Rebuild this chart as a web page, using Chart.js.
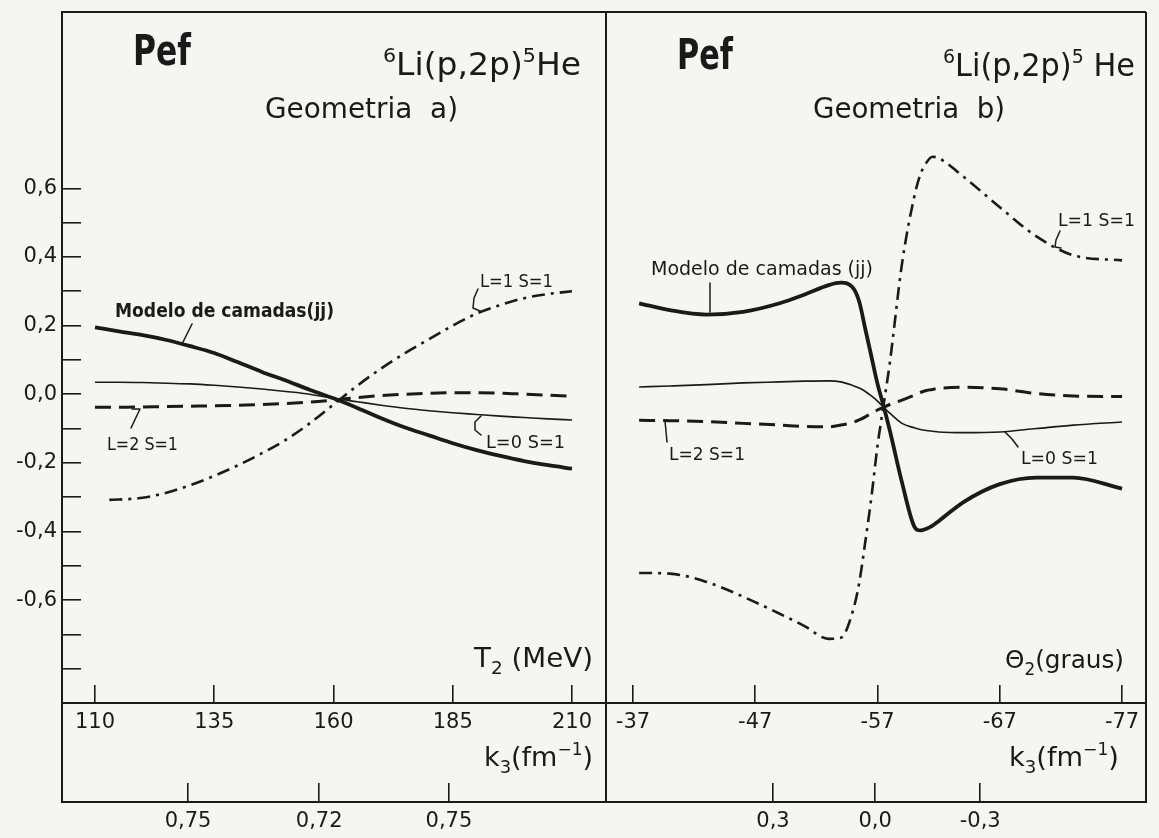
<!DOCTYPE html>
<html lang="pt">
<head>
<meta charset="utf-8">
<title>Pef 6Li(p,2p)5He</title>
<script src="https://cdn.jsdelivr.net/npm/chart.js@4.4.1/dist/chart.umd.min.js"></script>
<style>
  html, body { margin: 0; background: #f5f6f1; }
  #lamina { position: relative; width: 1159px; height: 838px; overflow: hidden; }
  canvas { position: absolute; top: 0; }
  #cA { left: 0; }
  #cB { left: 606px; }
</style>
</head>
<body>
<div id="lamina">
  <canvas id="cA" width="608" height="838"></canvas>
  <canvas id="cB" width="553" height="838"></canvas>
</div>
<script>
/* Pef - 6Li(p,2p)5He, geometrias a) e b) */

// ---------- dados: geometria a), abcissa T2 (MeV) ----------
const t2 = [110, 115, 120, 125, 130, 135, 140, 145, 150, 155, 160,
            165, 170, 175, 180, 185, 190, 195, 200, 205, 210];
const t2L1 = [113, 115, 120, 125, 130, 135, 140, 145, 150, 155, 160,
              165, 170, 175, 180, 185, 190, 195, 200, 205, 210];

const aJJ = [0.195, 0.183, 0.172, 0.158, 0.14, 0.12, 0.093, 0.065, 0.04, 0.013, -0.012,
             -0.04, -0.07, -0.097, -0.12, -0.143, -0.163, -0.18, -0.195, -0.207, -0.217];
const aL0 = [0.035, 0.035, 0.034, 0.032, 0.03, 0.026, 0.021, 0.015, 0.008, 0.0, -0.012,
             -0.022, -0.032, -0.041, -0.048, -0.054, -0.059, -0.064, -0.068, -0.072, -0.075];
const aL2 = [-0.038, -0.038, -0.037, -0.036, -0.035, -0.034, -0.032, -0.03, -0.027, -0.023, -0.017,
             -0.01, -0.004, 0.0, 0.003, 0.004, 0.004, 0.003, 0.0, -0.003, -0.006];
const aL1 = [-0.308, -0.307, -0.302, -0.287, -0.265, -0.238, -0.207, -0.172, -0.133, -0.085, -0.03,
             0.025, 0.075, 0.12, 0.16, 0.2, 0.235, 0.26, 0.28, 0.292, 0.3];

// ---------- dados: geometria b), abcissa theta2 (graus) ----------
const th = [-37.5, -40, -43, -46, -49, -51, -53, -54, -55, -55.5, -56, -56.5, -57,
            -57.5, -58, -59, -60, -60.5, -61, -61.5, -62, -64, -67, -70, -73, -77];

const bJJ = [0.265, 0.245, 0.232, 0.24, 0.265, 0.29, 0.318, 0.325, 0.31, 0.27, 0.19, 0.11, 0.03,
             -0.035, -0.105, -0.257, -0.385, -0.397, -0.392, -0.383, -0.37, -0.315, -0.262, -0.243, -0.243, -0.275];
const bL0 = [0.021, 0.024, 0.028, 0.033, 0.036, 0.038, 0.039, 0.036, 0.025, 0.018, 0.008, -0.005, -0.02,
             -0.038, -0.055, -0.085, -0.098, -0.103, -0.106, -0.108, -0.11, -0.112, -0.11, -0.1, -0.09, -0.081];
const bL2 = [-0.076, -0.077, -0.08, -0.085, -0.09, -0.094, -0.095, -0.09, -0.082, -0.075, -0.066, -0.055, -0.046,
             -0.038, -0.03, -0.017, -0.003, 0.005, 0.011, 0.014, 0.017, 0.02, 0.016, 0.002, -0.005, -0.007];
const bL1 = [-0.521, -0.523, -0.547, -0.59, -0.64, -0.675, -0.713, -0.71, -0.63, -0.55, -0.43, -0.3, -0.15,
             -0.03, 0.09, 0.38, 0.575, 0.64, 0.675, 0.692, 0.688, 0.635, 0.545, 0.46, 0.405, 0.39];

// ---------- eixos ----------
const yTicks = [-0.8, -0.7, -0.6, -0.5, -0.4, -0.3, -0.2, -0.1, 0, 0.1, 0.2, 0.3, 0.4, 0.5, 0.6];
const yLabels = ["", "", "-0,6", "", "-0,4", "", "-0,2", "", "0,0", "", "0,2", "", "0,4", "", "0,6"];
const t2Ticks = [110, 135, 160, 185, 210];
const t2Labels = ["110", "135", "160", "185", "210"];
const thTicks = [-37, -47, -57, -67, -77];
const thLabels = ["-37", "-47", "-57", "-67", "-77"];
const k3aPos = [129.5, 157.0, 184.2];
const k3aLabels = ["0,75", "0,72", "0,75"];
const k3bPos = [-48.45, -56.8, -65.4];
const k3bLabels = ["0,3", "0,0", "-0,3"];

const TINTA = "#1a1a1a";
const FONTE = "'DejaVu Sans', 'Noto Sans', sans-serif";

Chart.defaults.color = TINTA;
Chart.defaults.font.family = FONTE;

// estilos das curvas
const estilos = {
  jj: { borderWidth: 3.8, borderDash: [] },
  l0: { borderWidth: 1.6, borderDash: [] },
  l2: { borderWidth: 3, borderDash: [16, 8] },
  l1: { borderWidth: 2.6, borderDash: [13, 6, 3, 6] },
};

const pontos = (xs, ys) => xs.map((x, i) => ({ x, y: ys[i] }));

function serie(label, xs, ys, estilo, eixo) {
  return {
    label,
    data: pontos(xs, ys),
    xAxisID: eixo,
    yAxisID: "y",
    borderColor: TINTA,
    pointRadius: 0,
    fill: false,
    cubicInterpolationMode: "monotone",
    ...estilos[estilo],
  };
}

function eixoY(mostrar) {
  return {
    type: "linear",
    position: "left",
    display: mostrar,
    min: -0.9,
    max: 1.114,
    afterFit: (s) => {
      s.width = mostrar ? 62 : 0;
      // sem margem extra por causa dos rotulos
      s.paddingTop = 0;
      s.paddingBottom = 0;
    },
    afterBuildTicks: (s) => { s.ticks = yTicks.map((v) => ({ value: v })); },
    grid: { drawOnChartArea: false, tickLength: -19, color: TINTA, lineWidth: 1.6 },
    border: { display: true, color: TINTA, width: 2 },
    ticks: {
      autoSkip: false,
      padding: 24,
      color: TINTA,
      font: { family: FONTE, size: 21 },
      callback: (v, i) => yLabels[i],
    },
  };
}

function eixoX(pos, rotulos, peso, altura, comp, pad, min, max, reverse) {
  return {
    type: "linear",
    position: "bottom",
    weight: peso,
    min,
    max,
    reverse,
    afterFit: (s) => {
      s.height = altura;
      s.paddingLeft = 0;
      s.paddingRight = 0;
    },
    afterBuildTicks: (s) => { s.ticks = pos.map((v) => ({ value: v })); },
    grid: { drawOnChartArea: false, tickLength: -comp, color: TINTA, lineWidth: 1.6 },
    border: { display: true, color: TINTA, width: 2 },
    ticks: {
      autoSkip: false,
      maxRotation: 0,
      padding: pad,
      color: TINTA,
      font: { family: FONTE, size: 21 },
      callback: (v, i) => rotulos[i],
    },
  };
}

// moldura: topo, lado direito e (opcional) lado esquerdo ate a linha de k3
function moldura(comEsquerda) {
  return {
    id: "moldura",
    afterDraw(chart) {
      const { ctx, chartArea: a } = chart;
      const baixo = chart.scales.k3.top + 1;
      ctx.save();
      ctx.strokeStyle = TINTA;
      ctx.lineWidth = 2;
      ctx.beginPath();
      ctx.moveTo(a.left, a.top);
      ctx.lineTo(a.right, a.top);
      ctx.moveTo(a.right, a.top);
      ctx.lineTo(a.right, baixo);
      if (comEsquerda) {
        ctx.moveTo(a.left, a.top);
        ctx.lineTo(a.left, baixo);
      }
      ctx.stroke();
      ctx.restore();
    },
  };
}

// texto com partes (indices / expoentes); w = largura final desejada
function escrever(ctx, t) {
  const fonte = (p) => `${p[3] ? "bold " : ""}${p[1]}px ${FONTE}`;
  let largura = 0;
  const medidas = t.partes.map((p) => {
    ctx.font = fonte(p);
    const m = ctx.measureText(p[0]).width;
    largura += m;
    return m;
  });
  const k = t.w ? t.w / largura : 1;
  ctx.save();
  ctx.translate(t.x, t.y);
  ctx.scale(k, 1);
  let x = 0;
  t.partes.forEach((p, i) => {
    ctx.font = fonte(p);
    ctx.fillText(p[0], x, p[2] || 0);
    x += medidas[i];
  });
  ctx.restore();
}

function notas(cfg, dx) {
  return {
    id: "notas",
    afterDraw(chart) {
      const ctx = chart.ctx;
      ctx.save();
      ctx.translate(-dx, 0);
      ctx.fillStyle = TINTA;
      ctx.strokeStyle = TINTA;
      ctx.textAlign = "left";
      ctx.textBaseline = "alphabetic";
      cfg.textos.forEach((t) => escrever(ctx, t));
      ctx.lineWidth = 1.5;
      ctx.lineCap = "round";
      ctx.lineJoin = "round";
      cfg.guias.forEach((g) => {
        ctx.beginPath();
        g.forEach(([x, y], i) => (i ? ctx.lineTo(x, y) : ctx.moveTo(x, y)));
        ctx.stroke();
      });
      ctx.restore();
    },
  };
}

const notasA = {
  textos: [
    { x: 133, y: 65, w: 58, partes: [["Pef", 42, 0, true]] },
    { x: 383, y: 75, w: 198, partes: [["6", 20, -13], ["Li(p,2p)", 32, 0], ["5", 20, -13], ["He", 32, 0]] },
    { x: 265, y: 118, w: 193, partes: [["Geometria  a)", 28, 0]] },
    { x: 115, y: 317, w: 219, partes: [["Modelo de camadas(jj)", 19, 0, true]] },
    { x: 480, y: 287, w: 73, partes: [["L=1 S=1", 18, 0]] },
    { x: 107, y: 450, w: 71, partes: [["L=2 S=1", 18, 0]] },
    { x: 486, y: 448, w: 79, partes: [["L=0 S=1", 18, 0]] },
    { x: 474, y: 667, w: 119, partes: [["T", 27, 0], ["2", 18, 7], [" (MeV)", 27, 0]] },
    { x: 484, y: 766, w: 109, partes: [["k", 27, 0], ["3", 18, 7], ["(fm", 27, 0], ["\u22121", 17, -11], [")", 27, 0]] },
  ],
  guias: [
    [[192, 324], [182, 344]],
    [[478, 289], [474, 298], [473, 308], [480, 311]],
    [[132, 409], [140, 409], [131, 428]],
    [[481, 416], [475, 422], [475, 430], [481, 435]],
  ],
};

const notasB = {
  textos: [
    { x: 677, y: 69, w: 56, partes: [["Pef", 42, 0, true]] },
    { x: 943, y: 76, w: 192, partes: [["6", 20, -13], ["Li(p,2p)", 32, 0], ["5", 20, -13], [" He", 32, 0]] },
    { x: 813, y: 118, w: 192, partes: [["Geometria  b)", 28, 0]] },
    { x: 651, y: 275, w: 222, partes: [["Modelo de camadas (jj)", 19, 0]] },
    { x: 1058, y: 226, w: 77, partes: [["L=1 S=1", 18, 0]] },
    { x: 669, y: 460, w: 76, partes: [["L=2 S=1", 18, 0]] },
    { x: 1021, y: 464, w: 77, partes: [["L=0 S=1", 18, 0]] },
    { x: 1005, y: 668, w: 119, partes: [["\u0398", 25, 0], ["2", 17, 7], ["(graus)", 25, 0]] },
    { x: 1009, y: 766, w: 110, partes: [["k", 27, 0], ["3", 18, 7], ["(fm", 27, 0], ["\u22121", 17, -11], [")", 27, 0]] },
  ],
  guias: [
    [[710, 283], [710, 312]],
    [[1060, 231], [1056, 240], [1055, 247], [1061, 248]],
    [[672, 421], [665, 421], [667, 442]],
    [[1005, 432], [1012, 439], [1018, 447]],
  ],
};

const comum = {
  responsive: false,
  animation: false,
  devicePixelRatio: 1,
  events: [],
  plugins: { legend: { display: false }, tooltip: { enabled: false } },
};

// ---------- geometria a) ----------
new Chart(document.getElementById("cA"), {
  type: "line",
  data: {
    datasets: [
      serie("Modelo de camadas (jj)", t2, aJJ, "jj", "t2"),
      serie("L=0 S=1", t2, aL0, "l0", "t2"),
      serie("L=2 S=1", t2, aL2, "l2", "t2"),
      serie("L=1 S=1", t2L1, aL1, "l1", "t2"),
    ],
  },
  options: {
    ...comum,
    layout: { padding: { top: 12, right: 2, left: 0, bottom: 0 } },
    scales: {
      y: eixoY(true),
      t2: eixoX(t2Ticks, t2Labels, 1, 99, 18, 25, 103.08, 217.13, false),
      k3: eixoX(k3aPos, k3aLabels, 2, 36, 19, 26, 103.08, 217.13, false),
    },
  },
  plugins: [moldura(true), notas(notasA, 0)],
});

// ---------- geometria b) ----------
new Chart(document.getElementById("cB"), {
  type: "line",
  data: {
    datasets: [
      serie("Modelo de camadas (jj)", th, bJJ, "jj", "th"),
      serie("L=0 S=1", th, bL0, "l0", "th"),
      serie("L=2 S=1", th, bL2, "l2", "th"),
      serie("L=1 S=1", th, bL1, "l1", "th"),
    ],
  },
  options: {
    ...comum,
    layout: { padding: { top: 12, right: 13, left: 0, bottom: 0 } },
    scales: {
      y: eixoY(false),
      th: eixoX(thTicks, thLabels, 1, 99, 18, 25, -78.96, -34.79, true),
      k3: eixoX(k3bPos, k3bLabels, 2, 36, 19, 26, -78.96, -34.79, true),
    },
  },
  plugins: [moldura(false), notas(notasB, 606)],
});
</script>
</body>
</html>
